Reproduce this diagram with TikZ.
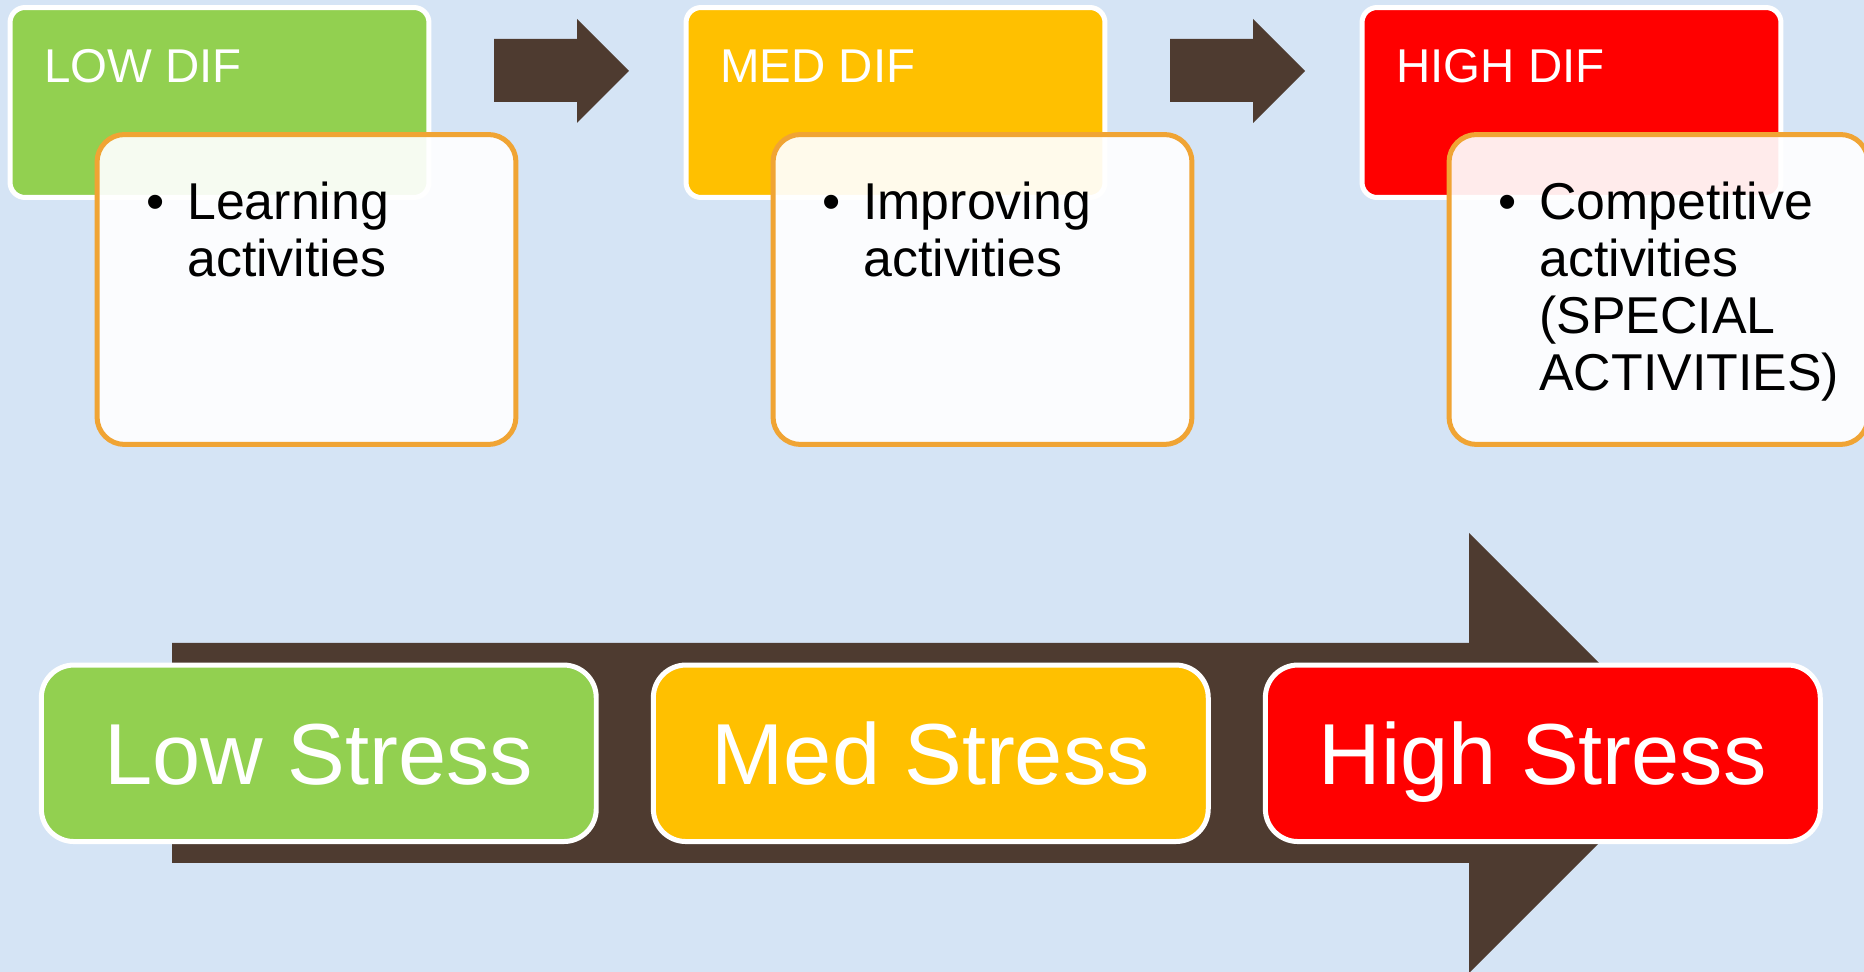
\documentclass[tikz,border=0pt]{standalone}
\usepackage{fontspec}
\setmainfont{Liberation Sans}
\usepackage{tikz}
\definecolor{skyback}{RGB}{213,228,245}
\definecolor{lowgreen}{HTML}{92D050}
\definecolor{medyellow}{HTML}{FFC000}
\definecolor{highred}{HTML}{FF0000}
\definecolor{arrowbrown}{RGB}{78,59,48}
\definecolor{actorange}{RGB}{240,164,52}
\newcommand{\actitem}[1]{\begin{tabular}[t]{@{}l@{}}\llap{\textbullet\hspace{0.45cm}}#1\end{tabular}}

\begin{document}
\begin{tikzpicture}[x=0.02cm, y=-0.02cm,
   difbox/.style={draw=white, line width=0.1cm, rounded corners=0.3cm,
      minimum width=8.38cm, minimum height=3.8cm, inner sep=0pt},
   diftext/.style={anchor=base west, inner sep=0pt, text=white,
      font=\fontsize{27}{32}\selectfont},
   actbox/.style={draw=actorange, line width=0.1cm, fill=white, fill opacity=0.92,
      rounded corners=0.55cm, minimum width=8.38cm, minimum height=6.2cm, inner sep=0pt},
   acttext/.style={anchor=base west, inner sep=0pt,
      font=\fontsize{29.5}{32.3}\selectfont},
   stressbox/.style={draw=white, line width=0.1cm, rounded corners=0.65cm,
      minimum width=11.1cm, minimum height=3.53cm, inner sep=0pt, text=white,
      text height=1.25cm, text depth=0pt, font=\fontsize{49.3}{56}\selectfont},
   blockarrow/.style={fill=arrowbrown}]
   \useasboundingbox (0,0) rectangle (1864,972);
   \clip (0,0) rectangle (1864,972);
   \fill[skyback] (0,0) rectangle (1864,972);

   % top row
   \fill[blockarrow] (494,39) -- (577,39) -- (577,19) -- (629,71) -- (577,123)
      -- (577,102) -- (494,102) -- cycle;
   \fill[blockarrow] (1170,39) -- (1253,39) -- (1253,19) -- (1305,71) -- (1253,123)
      -- (1253,102) -- (1170,102) -- cycle;

   \node[difbox, fill=lowgreen]  (lowdif)  at (219.5,102.5) {};
   \node[difbox, fill=medyellow] (meddif)  at (895.5,102.5) {};
   \node[difbox, fill=highred]   (highdif) at (1571.5,102.5) {};
   \node[diftext] (lowlbl)  at (44,83)   {LOW DIF};
   \node[diftext] (medlbl)  at (720,83)  {MED DIF};
   \node[diftext] (highlbl) at (1396,83) {HIGH DIF};

   \node[actbox] (learnbox)   at (306.5,289.5)  {};
   \node[actbox] (improvebox) at (982.5,289.5)  {};
   \node[actbox] (competebox) at (1658.5,289.5) {};
   \node[acttext] (learn)   at (187,220)  {\actitem{Learning\\activities}};
   \node[acttext] (improve) at (863,220)  {\actitem{Improving\\activities}};
   \node[acttext] (compete) at (1539,220) {\actitem{Competitive\\activities\\(SPECIAL\\ACTIVITIES)}};

   % bottom row
   \fill[blockarrow] (172,643) -- (1469,643) -- (1469,533) -- (1689,753) -- (1469,973)
      -- (1469,863) -- (172,863) -- cycle;

   \node[stressbox, fill=lowgreen]  (lowstress)  at (318.8,753.3)  {Low Stress};
   \node[stressbox, fill=medyellow] (medstress)  at (930.8,753.3)  {Med Stress};
   \node[stressbox, fill=highred]   (highstress) at (1542.8,753.3) {High Stress};
\end{tikzpicture}
\end{document}
